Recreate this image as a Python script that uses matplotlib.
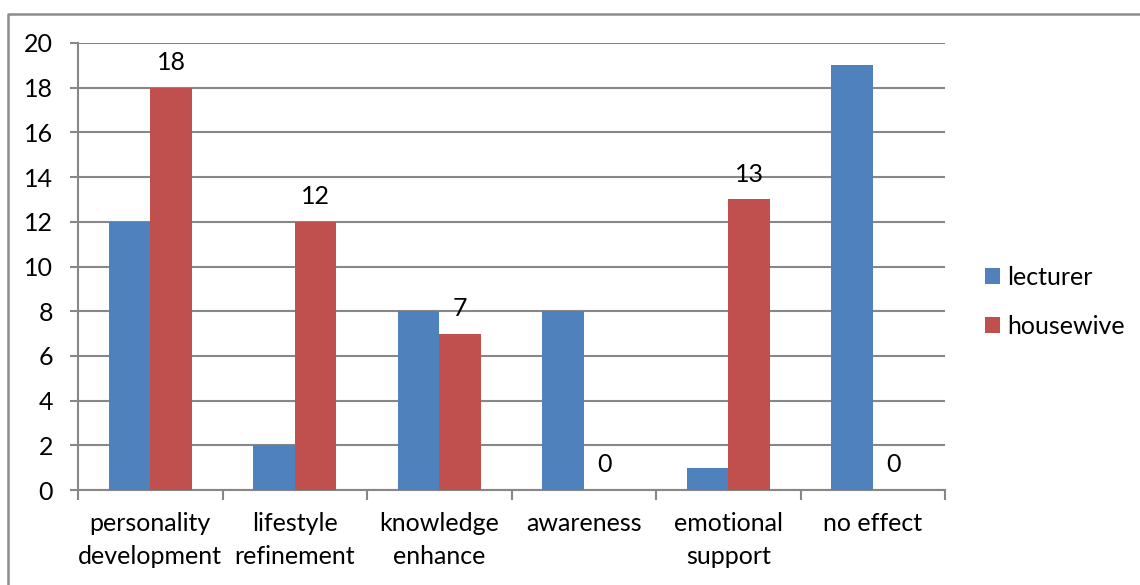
import matplotlib
matplotlib.use("Agg")
import matplotlib.pyplot as plt
from matplotlib.lines import Line2D
import numpy as np

# --- Data ---
categories = ["personality\ndevelopment", "lifestyle\nrefinement", "knowledge\nenhance",
              "awareness", "emotional\nsupport", "no effect"]
lecturer = [12, 2, 8, 8, 1, 19]
housewive = [18, 12, 7, 0, 13, 0]

# --- Style ---
BLUE = "#4F81BD"
RED = "#C0504D"
GRID = "#878787"
FS = 18
plt.rcParams["font.family"] = ["Lato", "DejaVu Sans"]
plt.rcParams["font.size"] = FS

fig = plt.figure(figsize=(11.4, 5.85), dpi=100)
ax = fig.add_axes([78 / 1140, 1 - 490 / 585, (945 - 78) / 1140, (490 - 43) / 585])

x = np.arange(len(categories))
w = 0.2875
ax.bar(x - w / 2, lecturer, w, color=BLUE, label="lecturer", zorder=3)
bars_h = ax.bar(x + w / 2, housewive, w, color=RED, label="housewive", zorder=3)

# value labels above the housewive bars
for b, v in zip(bars_h, housewive):
    ax.annotate(str(v), (b.get_x() + b.get_width() / 2, v), xytext=(0, 10),
                textcoords="offset points", ha="center", va="bottom", fontsize=FS)

ax.set_xlim(-0.5, len(categories) - 0.5)
ax.set_ylim(0, 20)
ax.set_yticks(range(0, 21, 2))
ax.yaxis.grid(True, color=GRID, linewidth=1.5, zorder=0)
ax.tick_params(axis="y", length=6, width=1.5, color=GRID, pad=12)

# category ticks sit on the boundaries, labels in the middle
ax.set_xticks(np.arange(-0.5, len(categories)), minor=False)
ax.set_xticklabels([])
ax.set_xticks(x, minor=True)
ax.set_xticklabels(categories, minor=True, linespacing=1.5)
ax.tick_params(axis="x", which="major", length=7, width=1.5, color=GRID, direction="out")
ax.tick_params(axis="x", which="minor", length=0, pad=16)

for side in ["top", "right"]:
    ax.spines[side].set_visible(False)
for side in ["left", "bottom"]:
    ax.spines[side].set_color(GRID)
    ax.spines[side].set_linewidth(1.5)

ax.legend(loc="center left", bbox_to_anchor=(985 / 1140, 1 - 302 / 585),
          bbox_transform=fig.transFigure, frameon=False, fontsize=FS,
          handlelength=0.6, handleheight=0.6, handletextpad=0.3,
          labelspacing=1.05, borderaxespad=0, borderpad=0)

# outer frame: top edge and left edge
fig.add_artist(Line2D([8 / 1140, 8 / 1140, 1], [0, 1 - 14 / 585, 1 - 14 / 585],
                      transform=fig.transFigure, color="#8C8C8C", linewidth=1.8))

fig.savefig("out.png", dpi=100)
